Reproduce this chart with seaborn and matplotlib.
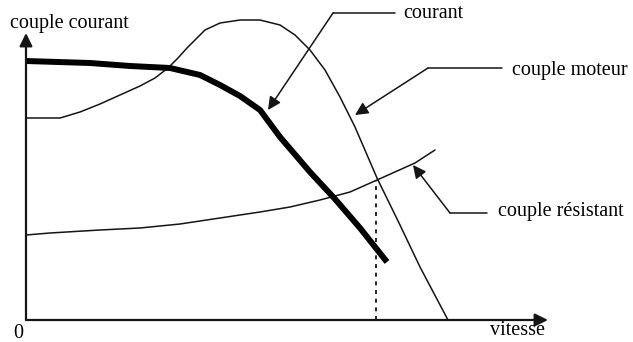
import matplotlib
matplotlib.use("Agg")
import matplotlib.pyplot as plt
import seaborn as sns
import pandas as pd

# Courbes caractéristiques (vitesse en abscisse, couple / courant en ordonnée)
vitesse_courant = [0, 64, 104, 144, 174, 194, 214, 234, 254, 284, 309, 334, 361]
courant = [259, 257, 254, 252, 245, 235, 224, 210, 183, 148, 121, 92, 58]

vitesse_moteur = [0, 34, 54, 74, 94, 114, 129, 142, 152, 161, 169, 179, 194, 214,
                  234, 254, 269, 284, 299, 314, 329, 351, 374, 394, 422]
couple_moteur = [202, 202, 208, 216, 225, 234, 242, 252, 262, 272, 280, 290, 297, 300,
                 300, 295, 285, 270, 250, 223, 193, 142, 95, 53, 0]

vitesse_resistant = [0, 24, 74, 114, 154, 194, 234, 264, 294, 324, 351, 389, 409]
couple_resistant = [85, 87, 90, 92, 96, 102, 108, 113, 120, 128, 140, 157, 170]

# Point de fonctionnement (intersection couple moteur / couple résistant)
vitesse_fonct = 350
couple_fonct = 140

sns.set_theme(style="white")
plt.rcParams["font.family"] = ["Liberation Serif", "DejaVu Serif"]

ink = "#151515"
fig = plt.figure(figsize=(6.33, 3.42), dpi=100)
ax = fig.add_axes([0, 0, 1, 1])
ax.set_xlim(-26, 607)
ax.set_ylim(-22, 320)
ax.axis("off")

df_c = pd.DataFrame({"v": vitesse_courant, "y": courant})
df_m = pd.DataFrame({"v": vitesse_moteur, "y": couple_moteur})
df_r = pd.DataFrame({"v": vitesse_resistant, "y": couple_resistant})

sns.lineplot(data=df_m, x="v", y="y", ax=ax, sort=False, estimator=None,
             color=ink, linewidth=1.1)
sns.lineplot(data=df_r, x="v", y="y", ax=ax, sort=False, estimator=None,
             color=ink, linewidth=1.1)
sns.lineplot(data=df_c, x="v", y="y", ax=ax, sort=False, estimator=None,
             color="black", linewidth=4.3, solid_capstyle="butt")

ax.plot([vitesse_fonct, vitesse_fonct], [0, couple_fonct], color=ink,
        linewidth=1.3, linestyle=(0, (2.2, 2.6)))

head = matplotlib.patches.ArrowStyle("-|>", head_length=0.65, head_width=0.32)
arrow_kw = dict(arrowstyle=head, mutation_scale=12, color=ink, lw=1.1,
                shrinkA=0, shrinkB=0)

# Axes
ax.annotate("", xy=(0, 287), xytext=(0, 0),
            arrowprops=dict(arrow_kw, lw=1.6))
ax.annotate("", xy=(522, 0), xytext=(0, 0),
            arrowprops=dict(arrow_kw, lw=1.6))

fs = 14.5
ax.text(-16, 292, "couple courant", fontsize=fs, ha="left", va="baseline", color="black")
ax.text(-8, -13, "0", fontsize=fs, ha="center", va="center", color="black")
ax.text(464, -15, "vitesse", fontsize=fs, ha="left", va="baseline", color="black")

# Légendes avec flèches
legendes = [
    ("courant", (307, 307), (369, 307), (242, 210), (377, 302)),
    ("couple moteur", (402, 252), (476, 252), (329, 205), (486, 245)),
    ("couple résistant", (424, 107), (461, 107), (387, 155), (472, 104)),
]
for label, coude, fin, pointe, pos_txt in legendes:
    ax.plot([coude[0], fin[0]], [coude[1], fin[1]], color=ink, linewidth=1.1)
    ax.annotate("", xy=pointe, xytext=coude, arrowprops=arrow_kw)
    ax.text(pos_txt[0], pos_txt[1], label, fontsize=fs, ha="left",
            va="baseline", color="black")

fig.savefig("out.png", dpi=100, facecolor="white")
